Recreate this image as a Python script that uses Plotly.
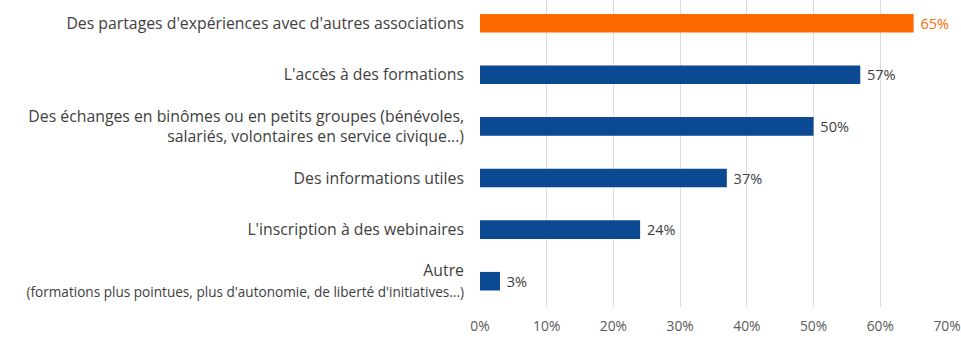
import plotly.graph_objects as go

categories = [
    "Des partages d'expériences avec d'autres associations",
    "L'accès à des formations",
    "Des échanges en binômes ou en petits groupes (bénévoles,<br>salariés, volontaires en service civique...)",
    "Des informations utiles",
    "L'inscription à des webinaires",
    "Autre<br><span style='font-size:13.6px'>(formations plus pointues, plus d'autonomie, de liberté d'initiatives...)</span>",
]
values = [65, 57, 50, 37, 24, 3]
bar_colors = ["#FF6A00", "#0B4A93", "#0B4A93", "#0B4A93", "#0B4A93", "#0B4A93"]
text_colors = ["#FF6A00", "#404040", "#404040", "#404040", "#404040", "#404040"]
tick_vals = [0, 10, 20, 30, 40, 50, 60, 70]
tick_text = [f"{v}%" for v in tick_vals]

fig = go.Figure(go.Bar(
    x=values,
    y=list(range(len(categories))),
    orientation="h",
    marker=dict(color=bar_colors, line=dict(width=0)),
    width=0.36,
    text=[f"{v}%" for v in values],
    texttemplate=" %{text}",
    textposition="outside",
    constraintext="none",
    textfont=dict(color=text_colors, size=14.5, family="Open Sans"),
    cliponaxis=False,
))

fig.update_layout(
    width=961, height=341,
    margin=dict(l=480, r=14, t=0, b=34, autoexpand=False),
    paper_bgcolor="white", plot_bgcolor="white",
    showlegend=False,
    font=dict(family="Open Sans", color="#404040", size=15.8),
    xaxis=dict(range=[0, 70], tickvals=tick_vals, ticktext=tick_text,
               showgrid=True, gridcolor="#DCDCDC", gridwidth=1,
               zeroline=False, showline=False, ticks="", automargin=False,
               ticklabeloverflow="allow", ticklabelstandoff=9,
               tickfont=dict(size=13.8, color="#595959")),
    yaxis=dict(range=[5.5, -0.45], tickvals=list(range(len(categories))),
               ticktext=categories, showgrid=False, zeroline=False,
               showline=False, ticks="", ticklabelstandoff=15, automargin=False,
               tickfont=dict(size=15.8, color="#404040")),
)

fig.write_html("out.html", config={"displayModeBar": False},
               post_script="document.body.style.margin='0';")
